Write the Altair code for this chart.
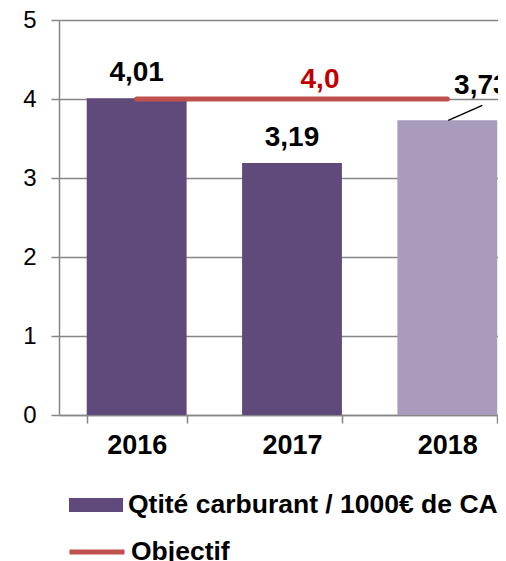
import altair as alt
import pandas as pd

years = ["2016", "2017", "2018"]
values = [4.01, 3.19, 3.73]
objective_years = ["2016", "2017", "2018"]
objective_values = [4.0, 4.0, 4.0]
bar_series = "Qtité carburant / 1000€ de CA"
line_series = "Objectif"
y_ticks = [0, 1, 2, 3, 4, 5]

FONT = "Liberation Sans"
GRAY = "#868686"
PURPLE = "#604A7B"
PATTERN = "#A89BBC"
RED = "#C0504D"

bars_df = pd.DataFrame({
    "year": years,
    "value": values,
    "series": [bar_series] * len(years),
    "label": [f"{v:.2f}".replace(".", ",") for v in values],
})
obj_df = pd.DataFrame({
    "year": objective_years,
    "value": objective_values,
    "series": [line_series] * len(objective_years),
    "label": [f"{v:.1f}".replace(".", ",") for v in objective_values],
})

x_scale = alt.Scale(domain=years, range=[0, 466], paddingInner=0.357, paddingOuter=0.1785)
y_scale = alt.Scale(domain=[0, 5], nice=False)

x_enc = alt.X(
    "year:N", scale=x_scale, sort=years,
    axis=alt.Axis(
        title=None, labelAngle=0, tickBand="extent", tickSize=8, tickColor=GRAY,
        tickWidth=1.5, domainColor=GRAY, domainWidth=1.5, labelFont=FONT,
        labelFontSize=27, labelFontWeight="bold", labelColor="black",
        labelPadding=9, grid=False,
    ),
)
y_enc = alt.Y(
    "value:Q", scale=y_scale,
    axis=alt.Axis(
        title=None, values=y_ticks, format="d", tickSize=8, tickColor=GRAY,
        tickWidth=1.5, domainColor=GRAY, domainWidth=1.5, grid=True,
        gridColor=GRAY, gridWidth=1.5, labelFont=FONT, labelFontSize=24,
        labelColor="black", labelPadding=15,
    ),
)

bars = alt.Chart(bars_df).mark_bar().encode(
    x=x_enc,
    y=y_enc,
    fill=alt.condition(
        alt.datum.year == "2018",
        alt.value(PATTERN),
        alt.Fill(
            "series:N",
            scale=alt.Scale(domain=[bar_series], range=[PURPLE]),
            legend=alt.Legend(
                title=None, orient="none", legendX=10, legendY=458, padding=0,
                symbolType="M-1,-0.26L1,-0.26L1,0.26L-1,0.26Z", symbolSize=2916,
                symbolStrokeWidth=0, labelFont=FONT, labelFontSize=26.5,
                labelFontWeight="bold", labelColor="black", labelLimit=600,
                labelOffset=5,
            ),
        ),
    ),
)

labels = alt.Chart(bars_df).transform_filter(alt.datum.year != "2018").mark_text(
    font=FONT, fontSize=28, fontWeight="bold", color="black", dy=-17,
    baseline="alphabetic",
).encode(x="year:N", y="value:Q", text="label:N")

label_2018 = alt.Chart(bars_df).transform_filter(alt.datum.year == "2018").mark_text(
    font=FONT, fontSize=28, fontWeight="bold", color="black", dx=34, dy=-26,
    baseline="alphabetic",
).encode(x="year:N", y="value:Q", text="label:N")

leader = alt.Chart(bars_df).transform_filter(alt.datum.year == "2018").mark_rule(
    color="black", strokeWidth=1.5, xOffset=1, x2Offset=35, y2Offset=-15,
).encode(x="year:N", y="value:Q", x2="year:N", y2="value:Q")

line = alt.Chart(obj_df).mark_line(strokeWidth=5, strokeCap="round").encode(
    x="year:N",
    y="value:Q",
    stroke=alt.Stroke(
        "series:N",
        scale=alt.Scale(domain=[line_series], range=[RED]),
        legend=alt.Legend(
            title=None, orient="none", legendX=8, legendY=502, padding=0,
            symbolType="stroke", symbolSize=3025, symbolStrokeWidth=5,
            labelFont=FONT, labelFontSize=26.5, labelFontWeight="bold",
            labelColor="black", labelLimit=600, labelOffset=4,
        ),
    ),
)

obj_label = alt.Chart(obj_df).transform_filter(alt.datum.year == "2017").mark_text(
    font=FONT, fontSize=28, fontWeight="bold", color="#C00000", dx=28, dy=-11,
    baseline="alphabetic",
).encode(x="year:N", y="value:Q", text="label:N")

chart = alt.layer(bars, line, labels, label_2018, leader, obj_label).resolve_scale(
    fill="independent", stroke="independent"
).properties(
    width=439,
    height=395,
    autosize=alt.AutoSizeParams(type="none"),
    padding={"left": 51, "top": 12, "right": 0, "bottom": 146},
).configure_view(stroke=None).configure(background="white")

chart.save("out.html", embed_options={"renderer": "svg", "actions": False})
